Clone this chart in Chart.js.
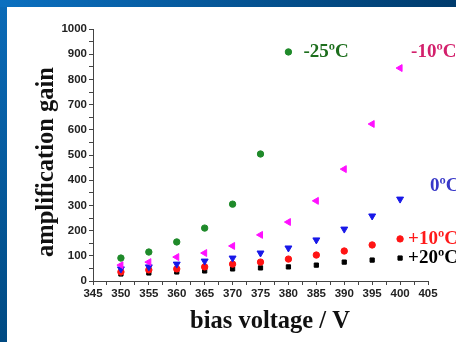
<!DOCTYPE html>
<html>
<head>
<meta charset="utf-8">
<script src="https://cdn.jsdelivr.net/npm/chart.js@4/dist/chart.umd.min.js"></script>
<style>
  html, body { margin: 0; padding: 0; width: 456px; height: 342px; overflow: hidden; }
  body { background: linear-gradient(to bottom, #0b6bb8, #004a82); position: relative; }
  #topband { position: absolute; left: 0; top: 0; width: 456px; height: 7px;
             background: linear-gradient(to right, #0b70c0, #003b6c); }
  #sheet { position: absolute; left: 7px; top: 7px; width: 449px; height: 335px; background: #fff; }
</style>
</head>
<body>
<div id="topband"></div>
<div id="sheet"><canvas id="gainChart" width="449" height="335"></canvas></div>
<script>
    // bias voltage (V) and measured gain per temperature
    var voltages = [350, 355, 360, 365, 370, 375, 380, 385, 390, 395, 400];
    var gainM25 = [91, 115, 155, 210, 305, 504, 909];
    var gainM10 = [63, 75, 95, 111, 139, 183, 234, 318, 444, 623, 845];
    var gain0 = [48, 56, 67, 79, 91, 111, 131, 163, 206, 258, 325];
    var gainP10 = [36, 44, 48, 56, 67, 75, 87, 103, 119, 143, 167];
    var gainP20 = [28, 32, 36, 40, 48, 52, 56, 63, 75, 83, 91];
    var seriesLabels = ["-25\u00BAC", "-10\u00BAC", "0\u00BAC", "+10\u00BAC", "+20\u00BAC"];
    var xTicks = [345, 350, 355, 360, 365, 370, 375, 380, 385, 390, 395, 400, 405];
    var yTicks = [0, 100, 200, 300, 400, 500, 600, 700, 800, 900, 1000];

    function pts(ys) {
        var out = [];
        for (var i = 0; i < ys.length; i++) out.push({x: voltages[i], y: ys[i]});
        return out;
    }

    // label colour and offset from each series' last point
    var tagStyle = [
        {color: "#1d6e1d", dx: 15, dy: 0},
        {color: "#d3206c", dx: 11, dy: -16},
        {color: "#3838c8", dx: 30, dy: -13},
        {color: "#ff1a1a", dx: 8, dy: 0},
        {color: "#000000", dx: 8, dy: 0}
    ];

    var seriesTags = {
        id: 'seriesTags',
        afterDatasetsDraw: function(chart) {
            var ctx = chart.ctx;
            ctx.save();
            ctx.font = "bold 19px 'Liberation Serif', 'DejaVu Serif', serif";
            ctx.textBaseline = "middle";
            ctx.textAlign = "left";
            chart.data.datasets.forEach(function(ds, i) {
                var meta = chart.getDatasetMeta(i);
                var last = meta.data[meta.data.length - 1];
                ctx.fillStyle = tagStyle[i].color;
                ctx.fillText(ds.label, last.x + tagStyle[i].dx, last.y + tagStyle[i].dy);
            });
            // axis titles
            ctx.fillStyle = "#111";
            ctx.font = "bold 24.5px 'Liberation Serif', 'DejaVu Serif', serif";
            ctx.textAlign = "center";
            ctx.fillText("bias voltage / V", 263, 315);
            ctx.translate(40, 155);
            ctx.rotate(-Math.PI / 2);
            ctx.fillText("amplification gain", 0, 0);
            ctx.restore();
        }
    };

    var tickFont = {family: "'Liberation Sans', Arial, sans-serif", weight: "bold", size: 11.5};

    new Chart(document.getElementById("gainChart"), {
        type: 'scatter',
        data: {
            datasets: [
                {label: seriesLabels[0], data: pts(gainM25), pointStyle: 'circle', pointRadius: 3.2,
                 backgroundColor: "#1f8a2a", borderColor: "#1f8a2a"},
                {label: seriesLabels[1], data: pts(gainM10), pointStyle: 'triangle', rotation: -90, pointRadius: 4,
                 backgroundColor: "#ff10ff", borderColor: "#ff10ff"},
                {label: seriesLabels[2], data: pts(gain0), pointStyle: 'triangle', rotation: 180, pointRadius: 4,
                 backgroundColor: "#1818e8", borderColor: "#1818e8"},
                {label: seriesLabels[3], data: pts(gainP10), pointStyle: 'circle', pointRadius: 3.2,
                 backgroundColor: "#ff1414", borderColor: "#ff1414"},
                {label: seriesLabels[4], data: pts(gainP20), pointStyle: 'rect', pointRadius: 3,
                 backgroundColor: "#000", borderColor: "#000"}
            ]
        },
        options: {
            responsive: false,
            animation: false,
            layout: {padding: {left: 0, top: 22, right: 28, bottom: 0}},
            plugins: {legend: {display: false}, tooltip: {enabled: false}},
            scales: {
                x: {
                    type: 'linear', min: 345, max: 405,
                    afterBuildTicks: function(s) {
                        var t = [];
                        for (var v = 345; v <= 405; v += 2.5) t.push({value: v});
                        s.ticks = t;
                    },
                    afterFit: function(s) { s.height = 61; },
                    border: {display: true, color: "#444", width: 1},
                    grid: {drawOnChartArea: false, drawTicks: true, tickLength: 4, color: "#444"},
                    ticks: {
                        font: tickFont, color: "#222", padding: 2, maxRotation: 0, autoSkip: false,
                        callback: function(v) { return xTicks.indexOf(v) >= 0 ? String(v) : ''; }
                    }
                },
                y: {
                    min: 0, max: 1000,
                    afterBuildTicks: function(s) {
                        var t = [];
                        for (var v = 0; v <= 1000; v += 50) t.push({value: v});
                        s.ticks = t;
                    },
                    afterFit: function(s) { s.width = 86; },
                    border: {display: true, color: "#444", width: 1},
                    grid: {drawOnChartArea: false, drawTicks: true, tickLength: 4, color: "#444"},
                    ticks: {
                        font: tickFont, color: "#222", padding: 2, autoSkip: false,
                        callback: function(v) { return yTicks.indexOf(v) >= 0 ? String(v) : ''; }
                    }
                }
            }
        },
        plugins: [seriesTags]
    });
</script>
</body>
</html>
